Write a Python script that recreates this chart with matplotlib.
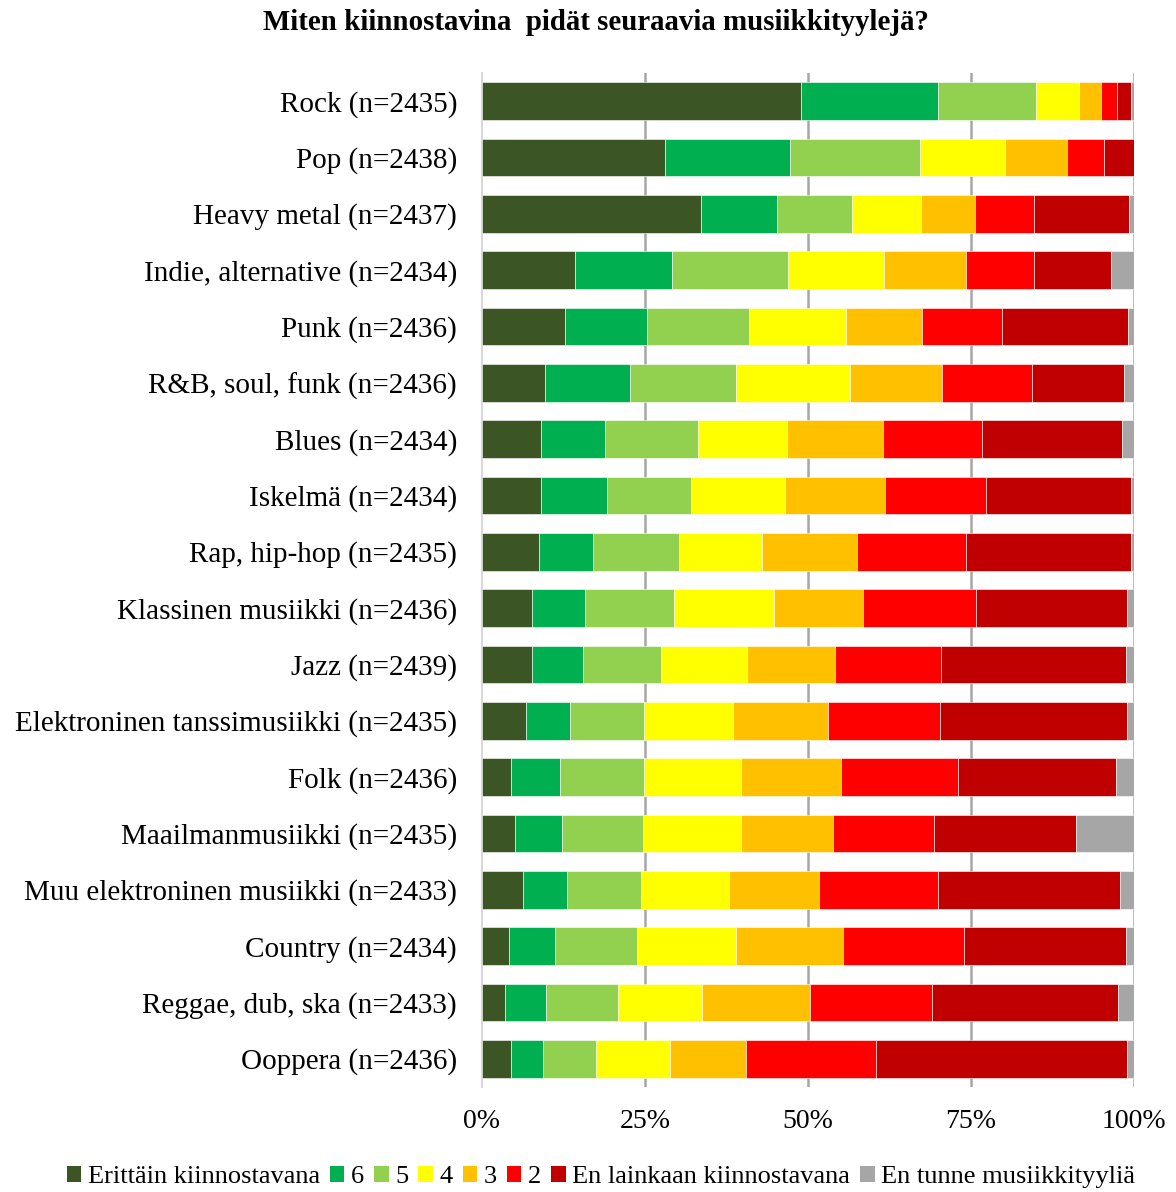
import matplotlib
matplotlib.use("Agg")
import matplotlib.pyplot as plt
from matplotlib.patches import Patch
import numpy as np

plt.rcParams['font.family'] = ['Liberation Serif', 'DejaVu Serif']

categories = [
    "Rock (n=2435)", "Pop (n=2438)", "Heavy metal (n=2437)",
    "Indie, alternative (n=2434)", "Punk (n=2436)", "R&B, soul, funk (n=2436)",
    "Blues (n=2434)", "Iskelmä (n=2434)", "Rap, hip-hop (n=2435)",
    "Klassinen musiikki (n=2436)", "Jazz (n=2439)",
    "Elektroninen tanssimusiikki (n=2435)", "Folk (n=2436)",
    "Maailmanmusiikki (n=2435)", "Muu elektroninen musiikki (n=2433)",
    "Country (n=2434)", "Reggae, dub, ska (n=2433)", "Ooppera (n=2436)",
]

series_names = ["Erittäin kiinnostavana", "6", "5", "4", "3", "2",
                "En lainkaan kiinnostavana", "En tunne musiikkityyliä"]

v7 = [48.9, 28.1, 33.6, 14.2, 12.8, 9.7, 9.1, 9.1, 8.7, 7.6, 7.6, 6.8, 4.5, 5.1, 6.3, 4.2, 3.6, 4.5]
v6 = [21.1, 19.1, 11.7, 15.0, 12.5, 13.0, 9.7, 10.1, 8.3, 8.2, 7.9, 6.7, 7.5, 7.2, 6.7, 7.0, 6.2, 4.9]
v5 = [14.9, 20.0, 11.5, 17.7, 15.6, 16.2, 14.4, 12.9, 13.2, 13.6, 12.0, 11.3, 12.8, 12.4, 11.4, 12.6, 11.1, 8.1]
v4 = [6.6, 13.0, 10.6, 14.8, 14.9, 17.6, 13.6, 14.4, 12.8, 15.4, 13.2, 13.7, 14.9, 15.0, 13.5, 15.1, 12.9, 11.3]
v3 = [3.5, 9.5, 8.2, 12.5, 11.7, 14.1, 14.7, 15.3, 14.5, 13.6, 13.4, 14.6, 15.4, 14.2, 13.8, 16.5, 16.5, 11.7]
v2 = [2.4, 5.7, 9.1, 10.4, 12.3, 13.8, 15.2, 15.5, 16.7, 17.4, 16.3, 17.1, 17.9, 15.5, 18.2, 18.5, 18.7, 19.9]
v1 = [2.2, 4.6, 14.6, 11.8, 19.3, 14.0, 21.4, 22.3, 25.4, 23.2, 28.3, 28.8, 24.3, 21.7, 28.0, 24.8, 28.5, 38.6]
v0 = [0.4, 0.1, 0.7, 3.6, 0.9, 1.6, 1.9, 0.4, 0.4, 1.0, 1.3, 1.0, 2.7, 8.9, 2.1, 1.3, 2.5, 1.0]

tick_labels = ["0%", "25%", "50%", "75%", "100%"]

colors = ["#3b5524", "#00b050", "#92d050", "#ffff00", "#ffc000", "#ff0000", "#c00000", "#a6a6a6"]

series = [v7, v6, v5, v4, v3, v2, v1, v0]

fig = plt.figure(figsize=(11.76, 11.92), dpi=100)
ax = fig.add_axes([482/1176, 1 - 1087/1192, (1134-482)/1176, (1087-73)/1192])

y = np.arange(len(categories))
left = np.zeros(len(categories))
for vals, col, name in zip(series, colors, series_names):
    vals = np.array(vals)
    ax.barh(y, vals, left=left, height=0.67, color=col, edgecolor='white',
            linewidth=0.4, label=name, zorder=3)
    left += vals

ax.set_ylim(len(categories) - 0.5, -0.5)
ax.set_xlim(0, 100)
ax.set_yticks(y)
ax.set_yticklabels(categories, fontsize=21)
ax.set_xticks([0, 25, 50, 75, 100])
ax.set_xticklabels(tick_labels, fontsize=20)
ax.tick_params(axis='y', length=0, pad=18)
ax.tick_params(axis='x', length=0, pad=16)
for s in ['top', 'right', 'bottom']:
    ax.spines[s].set_visible(False)
ax.spines['left'].set_color('#d9d9d9')
ax.spines['left'].set_linewidth(1.5)
for xv in [25, 50, 75, 100]:
    ax.axvline(xv, color='#a6a6a6', linewidth=1.8, zorder=1)

fig.text(595.5/1176, 1 - 22/1192, "Miten kiinnostavina  pidät seuraavia musiikkityylejä?",
         ha='center', va='center', fontsize=20.8, fontweight='bold')

handles = [Patch(facecolor=c, edgecolor='none') for c in colors]
fig.legend(handles, series_names, loc='center', bbox_to_anchor=(601/1176, 1 - 1177/1192),
           ncol=8, frameon=False, fontsize=19, handlelength=0.55, handleheight=0.55,
           handletextpad=0.25, columnspacing=0.38, borderaxespad=0)

fig.savefig("out.png", dpi=100)
